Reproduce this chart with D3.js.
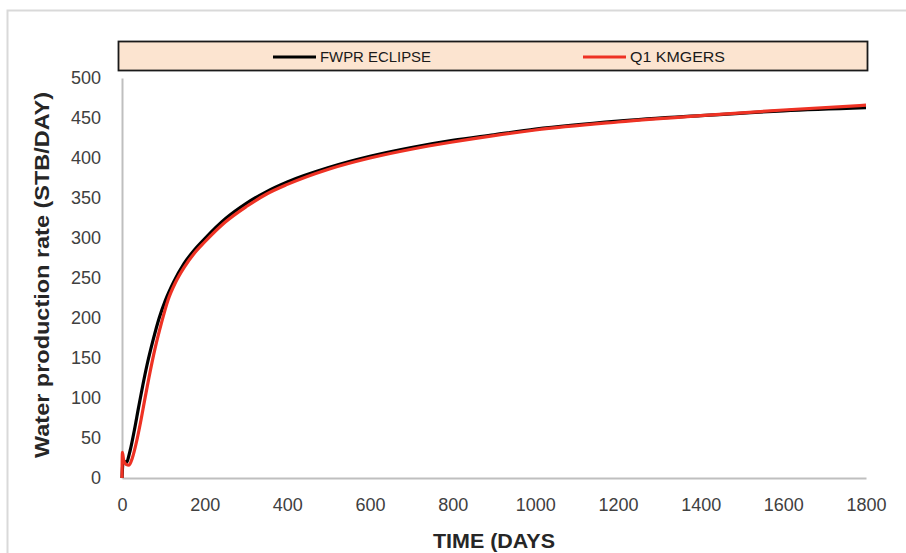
<!DOCTYPE html>
<html>
<head>
<meta charset="utf-8">
<script src="https://cdn.jsdelivr.net/npm/d3@7"></script>
<style>
body{margin:0;background:#fff;}
</style>
</head>
<body>
<svg id="chart" width="906" height="553"></svg>
<script>
// FWPR ECLIPSE (black)
let eclT=[0,3,10,20,30,40,50,60,75,90,105,125,150,175,200,250,300,350,400,500,600,700,800,900,1000,1200,1400,1600,1800];
let eclV=[0,22,19,35,60,88,115,140,172,200,222,245,268,285,299,324,343,358,370,388,402,413,422,429,436,446,453,459,463];
// Q1 KMGERS (red)
let kmgT=[0,1,4,10,17,25,35,45,55,65,80,95,111,130,150,175,200,250,300,350,400,500,600,700,800,900,1000,1200,1400,1600,1800];
let kmgV=[0,32,22,17,16,25,45,70,98,125,162,193,222,245,263,281,295,320,339,355,367,386,400,411,420,428,435,445,453,460,466];

let xTicks=[0,200,400,600,800,1000,1200,1400,1600,1800];
let yTicks=[0,50,100,150,200,250,300,350,400,450,500];
let seriesNames=["FWPR ECLIPSE","Q1 KMGERS"];
let seriesCols=["#000000","#ee3224"];

let svg=d3.select("#chart");

// outer frame (top + left only visible)
svg.append("path").attr("d","M7.5,553 L7.5,10.5 L906,10.5").attr("fill","none").attr("stroke","#d9d9d9").attr("stroke-width",2);

let x=d3.scaleLinear().domain([0,1800]).range([122,866]);
let y=d3.scaleLinear().domain([0,500]).range([478,78]);

let xAxis=d3.axisBottom(x).tickValues(xTicks).tickSize(0).tickPadding(20).tickFormat(d3.format("d"));
let yAxis=d3.axisLeft(y).tickValues(yTicks).tickSize(0).tickPadding(21).tickFormat(d3.format("d"));

let gx=svg.append("g").attr("transform","translate(0,478)").call(xAxis);
let gy=svg.append("g").attr("transform","translate(122,0)").call(yAxis);
[gx,gy].forEach(g=>{
  g.select(".domain").attr("stroke","#bfbfbf").attr("stroke-width",2);
  g.selectAll("text").style("font","18px 'Liberation Sans', Arial, sans-serif").attr("fill","#404040");
});

// axis titles
svg.append("text").attr("x",494).attr("y",548).attr("text-anchor","middle")
  .style("font","bold 21px 'Liberation Sans', Arial, sans-serif").attr("fill","#262626")
  .attr("textLength",122).attr("lengthAdjust","spacingAndGlyphs").text("TIME (DAYS");
svg.append("text").attr("transform","translate(49,275) rotate(-90)").attr("text-anchor","middle")
  .style("font","bold 21px 'Liberation Sans', Arial, sans-serif").attr("fill","#262626")
  .attr("textLength",366).attr("lengthAdjust","spacingAndGlyphs").text("Water production rate (STB/DAY)");

// lines
let line=d3.line().x(d=>x(d[0])).y(d=>y(d[1])).curve(d3.curveMonotoneX);
let ecl=eclT.map((t,i)=>[t,eclV[i]]);
let kmg=kmgT.map((t,i)=>[t,kmgV[i]]);
svg.append("path").datum(ecl).attr("d",line).attr("fill","none").attr("stroke",seriesCols[0]).attr("stroke-width",3.2);
svg.append("path").datum(kmg).attr("d",line).attr("fill","none").attr("stroke",seriesCols[1]).attr("stroke-width",3.2);

// legend
let lg=svg.append("g");
lg.append("rect").attr("x",118.5).attr("y",41.5).attr("width",749).attr("height",29)
  .attr("fill","#fce4d0").attr("stroke","#1a1a1a").attr("stroke-width",1.8);
let legX=[273,583];
let legW=[111,95];
seriesNames.forEach((n,i)=>{
  lg.append("line").attr("x1",legX[i]).attr("x2",legX[i]+43).attr("y1",57).attr("y2",57)
    .attr("stroke",seriesCols[i]).attr("stroke-width",3.2);
  lg.append("text").attr("x",legX[i]+47).attr("y",62).text(n)
    .style("font","15px 'Liberation Sans', Arial, sans-serif").attr("fill","#1a1a1a")
    .attr("textLength",legW[i]).attr("lengthAdjust","spacingAndGlyphs");
});
</script>
</body>
</html>
